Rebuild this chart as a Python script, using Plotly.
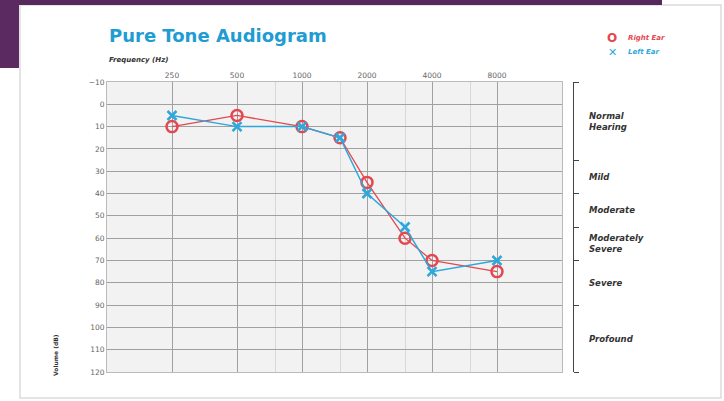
import plotly.graph_objects as go

# ---- data ----
freqs = [250, 500, 1000, 1500, 2000, 3000, 4000, 8000]
right_ear = [10, 5, 10, 15, 35, 60, 70, 75]
left_ear = [5, 10, 10, 15, 40, 55, 75, 70]
major_freqs = [250, 500, 1000, 2000, 4000, 8000]
major_labels = ["250", "500", "1000", "2000", "4000", "8000"]
minor_freqs = [750, 1500, 3000, 6000]
db_ticks = list(range(-10, 121, 10))
band_edges = [-10, 25, 40, 55, 70, 90, 120]
band_labels = ["Normal<br>Hearing", "Mild", "Moderate", "Moderately<br>Severe", "Severe", "Profound"]

RED = "#e5474f"
BLUE = "#2ea8dc"
FONT = "DejaVu Sans, sans-serif"
W, H = 724, 401
L, R, T, B = 107, 144, 82, 29
PW = W - L - R
PH = H - T - B


def px(xp):
    return (xp - L) / PW


def py(yp):
    return (H - B - yp) / PH


fig = go.Figure()
fig.add_trace(go.Scatter(x=freqs, y=right_ear, mode="lines+markers", name="Right Ear",
                         line=dict(color=RED, width=1.3),
                         marker=dict(symbol="circle-open", size=11, color=RED, line=dict(width=2.5)),
                         showlegend=False))
fig.add_trace(go.Scatter(x=freqs, y=left_ear, mode="lines+markers", name="Left Ear",
                         line=dict(color=BLUE, width=1.5),
                         marker=dict(symbol="x-thin-open", size=9, color=BLUE, line=dict(width=2.6, color=BLUE)),
                         showlegend=False))
# right-hand severity scale axis (dummy trace to activate axis)
fig.add_trace(go.Scatter(x=[None], y=[None], yaxis="y2", showlegend=False, hoverinfo="skip"))

fig.update_layout(
    width=W, height=H,
    margin=dict(l=L, r=R, t=T, b=B),
    paper_bgcolor="white",
    plot_bgcolor="#f2f2f2",
    font=dict(family=FONT, color="#555"),
    xaxis=dict(type="log", range=[2.09691, 4.20412], domain=[0, 455 / PW],
               side="top", tickvals=major_freqs, ticktext=major_labels,
               showgrid=True, gridcolor="#a0a0a0", gridwidth=1.2,
               tickfont=dict(size=7.5, color="#666"), ticks="", zeroline=False,
               showline=True, linecolor="#bbb", mirror=True,
               minor=dict(tickvals=minor_freqs, showgrid=True, gridcolor="#d8d8d8", gridwidth=1, ticks="")),
    yaxis=dict(range=[120, -10], tickvals=db_ticks, showgrid=True, gridcolor="#a0a0a0", gridwidth=1.2,
               tickfont=dict(size=7.5, color="#666"), zeroline=False, ticks="",
               showline=True, linecolor="#bbb", mirror=True),
    yaxis2=dict(range=[120, -10], overlaying="y", anchor="free", position=(573 - L) / PW, side="right",
                tickvals=band_edges, showticklabels=False, ticks="outside", ticklen=5, tickcolor="#444",
                showline=True, linecolor="#444", linewidth=1.2, showgrid=False, zeroline=False),
    showlegend=False,
)

shapes = [
    # card border
    dict(type="rect", xref="paper", yref="paper", x0=px(20), x1=px(721), y0=py(398), y1=py(5),
         line=dict(color="#dcdcdc", width=1.5), fillcolor="rgba(0,0,0,0)", layer="below"),
    # purple background strips
    dict(type="rect", xref="paper", yref="paper", x0=px(0), x1=px(662), y0=py(5), y1=py(-2),
         line=dict(width=0), fillcolor="#57285c", layer="below"),
    dict(type="rect", xref="paper", yref="paper", x0=px(0), x1=px(19), y0=py(68), y1=py(0),
         line=dict(width=0), fillcolor="#5b2a60", layer="below"),
]
fig.update_layout(shapes=shapes)

ann = [
    dict(text="<b>Pure Tone Audiogram</b>", xref="paper", yref="paper", x=0, y=py(36),
         xanchor="left", yanchor="middle", showarrow=False,
         font=dict(size=18, color="#1f9cd2", family=FONT)),
    dict(text="<b><i>Frequency (Hz)</i></b>", xref="paper", yref="paper", x=0, y=py(60),
         xanchor="left", yanchor="middle", showarrow=False, font=dict(size=7, color="#333")),
    dict(text="<b>Volume (dB)</b>", xref="paper", yref="paper", x=px(55), y=py(355), textangle=-90,
         xanchor="center", yanchor="middle", showarrow=False, font=dict(size=6, color="#333")),
    # legend
    dict(text="<b>O</b>", xref="paper", yref="paper", x=px(612), y=py(38), xanchor="center", yanchor="middle",
         showarrow=False, font=dict(size=12, color=RED)),
    dict(text="<b><i>Right Ear</i></b>", xref="paper", yref="paper", x=px(626), y=py(38), xanchor="left",
         yanchor="middle", showarrow=False, font=dict(size=7, color=RED)),
    dict(text="<b>✕</b>", xref="paper", yref="paper", x=px(612), y=py(52), xanchor="center", yanchor="middle",
         showarrow=False, font=dict(size=11, color=BLUE)),
    dict(text="<b><i>Left Ear</i></b>", xref="paper", yref="paper", x=px(626), y=py(52), xanchor="left",
         yanchor="middle", showarrow=False, font=dict(size=7, color=BLUE)),
]
for i, lab in enumerate(band_labels):
    mid = (band_edges[i] + band_edges[i + 1]) / 2
    ann.append(dict(text="<b><i>" + lab + "</i></b>", xref="paper", yref="y", x=px(587), y=mid,
                    xanchor="left", yanchor="middle", showarrow=False, align="left",
                    font=dict(size=8.5, color="#333")))
fig.update_layout(annotations=ann)

fig.write_html("out.html", config={"displayModeBar": False},
               post_script="document.body.style.margin='0px';")
